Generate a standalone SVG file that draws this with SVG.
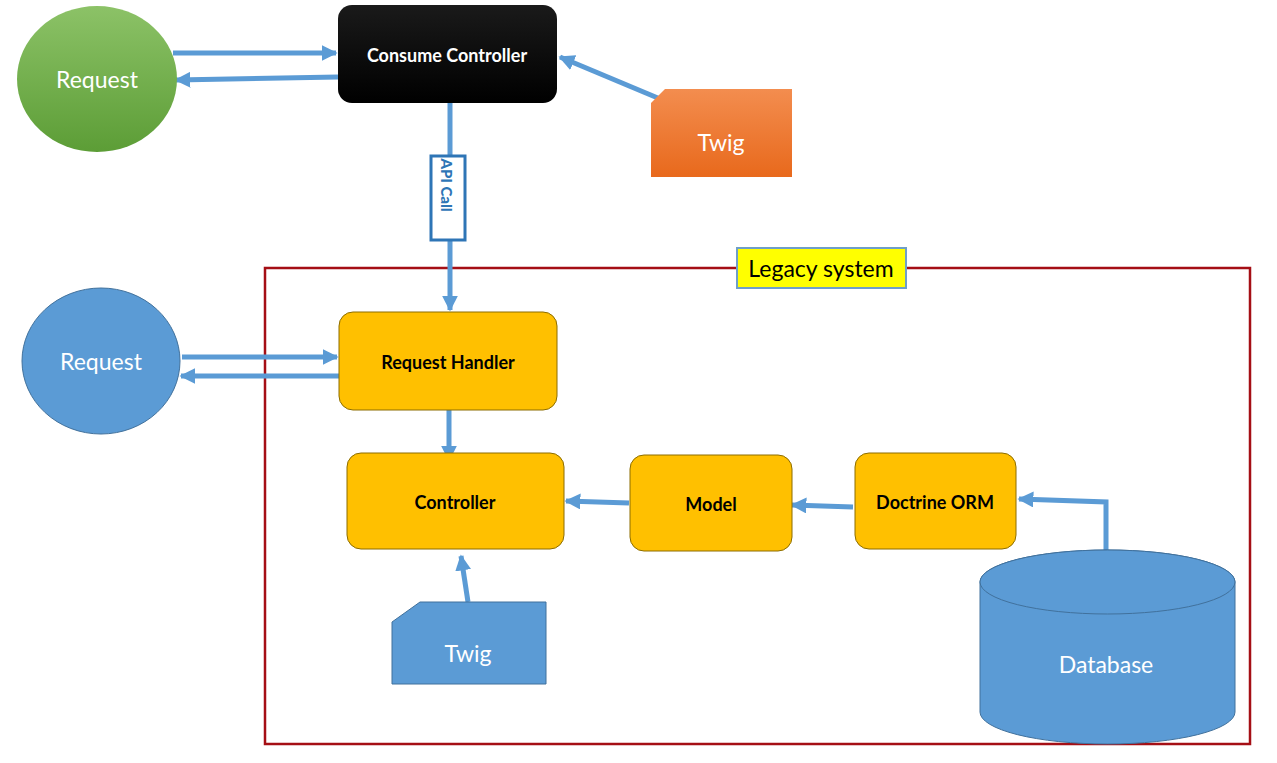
<svg xmlns="http://www.w3.org/2000/svg" width="1277" height="763" viewBox="0 0 1277 763">
<style>
.conn{fill:none;stroke:#5B9BD5;stroke-width:5}
.box{fill:#FFC000;stroke:#8C6D00;stroke-width:1}
.lbl{font-family:Lato,"Liberation Sans",sans-serif;font-weight:bold;font-size:18px;fill:#000;text-anchor:middle;dominant-baseline:central}
.wlbl{font-family:Lato,"Liberation Sans",sans-serif;font-size:23px;fill:#fff;text-anchor:middle;dominant-baseline:central}
.blue{fill:#5B9BD5;stroke:#41719C;stroke-width:1}
</style>
<defs>
<marker id="ah" viewBox="0 0 10 10" refX="9" refY="5" markerUnits="userSpaceOnUse" markerWidth="16" markerHeight="16" orient="auto">
<path d="M0,0 L10,5 L0,10 z" fill="#5B9BD5"/>
</marker>
<linearGradient id="gg" x1="0" y1="0" x2="0" y2="1">
<stop offset="0" stop-color="#8CC267"/><stop offset="1" stop-color="#5C9D36"/>
</linearGradient>
<linearGradient id="og" x1="0" y1="0" x2="0" y2="1">
<stop offset="0" stop-color="#F38D4F"/><stop offset="1" stop-color="#E8691C"/>
</linearGradient>
<linearGradient id="bg" x1="0" y1="0" x2="0" y2="1">
<stop offset="0" stop-color="#1a1a1a"/><stop offset="1" stop-color="#000"/>
</linearGradient>
</defs>

<g id="legacy-frame">
<rect x="265" y="268" width="985" height="476" fill="none" stroke="#A50F15" stroke-width="2.5"/>
<rect x="737" y="248" width="169" height="40" fill="#FFFF00" stroke="#6F9FC8" stroke-width="2"/>
<text x="821" y="268" font-family="Lato,'Liberation Sans',sans-serif" font-size="23" text-anchor="middle" dominant-baseline="central" fill="#000">Legacy system</text>
</g>

<g id="connectors">
<line class="conn" x1="173" y1="53" x2="336" y2="53" marker-end="url(#ah)"/>
<line class="conn" x1="338" y1="77" x2="176" y2="80" marker-end="url(#ah)"/>
<line class="conn" x1="665" y1="101" x2="560" y2="57" marker-end="url(#ah)"/>
<line class="conn" x1="450" y1="103" x2="450" y2="155"/>
<line class="conn" x1="450" y1="240" x2="450" y2="310" marker-end="url(#ah)"/>
<line class="conn" x1="182" y1="357" x2="337" y2="357" marker-end="url(#ah)"/>
<line class="conn" x1="339" y1="376" x2="181" y2="376" marker-end="url(#ah)"/>
<line class="conn" x1="449" y1="410" x2="449" y2="460" marker-end="url(#ah)"/>
<line class="conn" x1="629" y1="503" x2="566" y2="501" marker-end="url(#ah)"/>
<line class="conn" x1="853" y1="507" x2="792" y2="505" marker-end="url(#ah)"/>
<polyline class="conn" points="1106,551 1106,502 1019,499" marker-end="url(#ah)"/>
<line class="conn" x1="468" y1="602" x2="461" y2="556" marker-end="url(#ah)"/>
</g>

<g id="api-call">
<rect x="431" y="156" width="34" height="84" fill="#fff" stroke="#2E75B6" stroke-width="3"/>
<text transform="translate(447,185) rotate(90)" font-family="Lato,'Liberation Sans',sans-serif" font-weight="900" font-size="15" fill="#2E75B6" text-anchor="middle" dominant-baseline="central">API Call</text>
</g>

<g id="request-green">
<ellipse cx="97" cy="79" rx="80" ry="73" fill="url(#gg)"/>
<text class="wlbl" x="97" y="79">Request</text>
</g>

<g id="consume-controller">
<rect x="338" y="5" width="219" height="98" rx="14" fill="url(#bg)"/>
<text class="lbl" x="447" y="55" style="fill:#fff">Consume Controller</text>
</g>

<g id="twig-orange">
<path d="M665,89 L792,89 L792,177 L651,177 L651,103 Z" fill="url(#og)"/>
<text class="wlbl" x="721" y="142">Twig</text>
</g>

<g id="request-blue">
<ellipse class="blue" cx="101" cy="361" rx="79" ry="73"/>
<text class="wlbl" x="101" y="361">Request</text>
</g>

<g id="request-handler">
<rect class="box" x="339" y="312" width="218" height="98" rx="14"/>
<text class="lbl" x="448" y="362">Request Handler</text>
</g>

<g id="controller">
<rect class="box" x="347" y="453" width="217" height="96" rx="14"/>
<text class="lbl" x="455" y="502">Controller</text>
</g>

<g id="model">
<rect class="box" x="630" y="455" width="162" height="96" rx="14"/>
<text class="lbl" x="711" y="504">Model</text>
</g>

<g id="doctrine-orm">
<rect class="box" x="855" y="453" width="161" height="96" rx="14"/>
<text class="lbl" x="935" y="502">Doctrine ORM</text>
</g>

<g id="twig-blue">
<path class="blue" d="M420,602 L546,602 L546,684 L392,684 L392,622 Z"/>
<text class="wlbl" x="468" y="653">Twig</text>
</g>

<g id="database">
<path class="blue" d="M980,582 L980,712 A127.5,32 0 0 0 1235,712 L1235,582 A127.5,32 0 0 0 980,582 Z"/>
<ellipse class="blue" cx="1107.5" cy="582" rx="127.5" ry="32"/>
<text class="wlbl" x="1106" y="664">Database</text>
</g>
</svg>
